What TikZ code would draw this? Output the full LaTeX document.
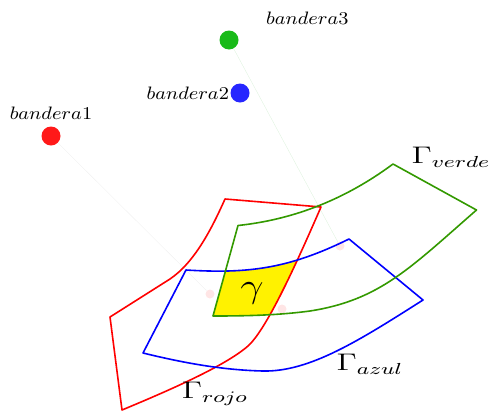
\documentclass[tikz,border=0pt]{standalone}
\usepackage{graphicx}
\usetikzlibrary{positioning}

\definecolor{verdeosc}{RGB}{51,153,0}

% contornos de las tres regiones (coordenadas en px)
\newcommand\pathRojo{(110,317) -- (122,410) .. controls (170,390) and (225,366) .. (248,346)
  .. controls (268,328) and (300,255) .. (321,207) -- (225,199)
  .. controls (212,228) and (195,262) .. (170,279) -- cycle}
\newcommand\pathAzul{(143,353) -- (186,270) .. controls (250,274) and (290,268) .. (349,239)
  -- (423,300) .. controls (360,340) and (310,372) .. (263,371)
  .. controls (220,370) and (180,362) .. (143,353) -- cycle}
\newcommand\pathVerde{(213,316) -- (238,225.5) .. controls (280,221) and (335,207) .. (393,164)
  -- (476.5,210) .. controls (410,268) and (380,300) .. (310,311)
  .. controls (280,315) and (250,316) .. (213,316) -- cycle}
\newcommand\ancho[2]{\scalebox{#1}[1]{#2}}

\begin{document}
\begin{tikzpicture}[
  x=0.5pt, y=-0.5pt,
  flag/.style={circle, inner sep=0pt, minimum size=9.5pt},
  ghost/.style={circle, fill=red, fill opacity=0.1, inner sep=0pt, minimum size=4.5pt},
  guide/.style={very thin, draw opacity=0.12},
  region/.style={thick, line join=round},
  tag/.style={font=\small}
]
  \useasboundingbox (0,0) rectangle (491,413);

  % banderas
  \node[flag, fill=red!90!white]            (b1) at (51,136)  {};
  \node[flag, fill=blue!85!white]           (b2) at (240,93)  {};
  \node[flag, fill=green!70!black!90!white] (b3) at (229,40)  {};
  \node[tag, above=0pt of b1]                  (l1) {\ancho{1.1}{$bandera1$}};
  \node[tag, left=-3pt of b2]                  (l2) {\ancho{1.1}{$bandera2$}};
  \node[tag, above right=0.5pt and 11.5pt of b3] (l3) {\ancho{1.1}{$bandera3$}};

  % puntos de destino
  \node[ghost] (p1) at (210,294) {};
  \node[ghost] (p2) at (282,309) {};
  \node[ghost] (p3) at (340,246) {};
  \draw[guide, draw=gray]           (b1) -- (p1);
  \draw[guide, draw=green!60!black] (b3) -- (p3);

  % interseccion
  \begin{scope}
    \clip \pathVerde;
    \clip \pathAzul;
    \fill[yellow] \pathRojo;
  \end{scope}

  \draw[region, red]      \pathRojo;
  \draw[region, blue]     \pathAzul;
  \draw[region, verdeosc] \pathVerde;

  \node (g)  at (252,293) {\ancho{1.2}{\LARGE $\gamma$}};
  \node (gv) at (451,157) {\ancho{1.38}{\large $\Gamma_{verde}$}};
  \node (ga) at (370,364) {\ancho{1.38}{\large $\Gamma_{azul}$}};
  \node (gr) at (215,394) {\ancho{1.38}{\large $\Gamma_{rojo}$}};
\end{tikzpicture}
\end{document}
